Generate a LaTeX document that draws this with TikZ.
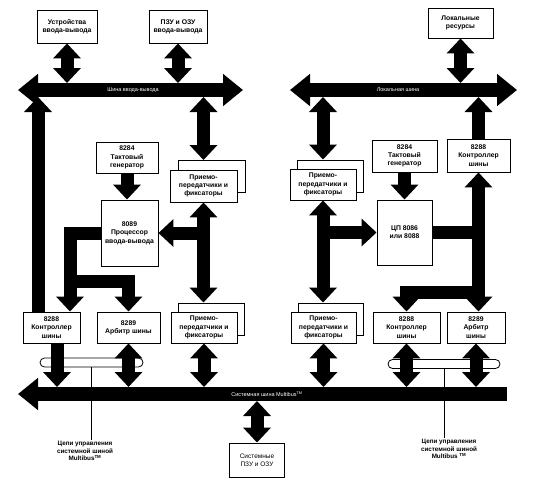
\documentclass[tikz,border=0pt]{standalone}
\usepackage{fontspec}
\setmainfont{Liberation Sans}
\usetikzlibrary{arrows.meta}

\begin{document}
\begin{tikzpicture}[x=1pt,y=-1pt]
\tikzset{
  unitbox/.style={draw=black,fill=white,line width=0.9pt,align=center,inner sep=1pt,font=\fontsize{6.8}{8.3}\selectfont\bfseries},
  fatline/.style={draw=black,line width=13pt,line join=miter},
  fatarrow/.style={fatline,-{Triangle[length=15pt,width=27pt]}},
  twoway/.style={fatline,{Triangle[length=15pt,width=27pt]}-{Triangle[length=15pt,width=27pt]}},
  busline/.style={draw=black,line width=14pt},
  busboth/.style={busline,{Triangle[length=20pt,width=31pt]}-{Triangle[length=20pt,width=31pt]}},
  busleft/.style={busline,{Triangle[length=20pt,width=31pt]}-},
  buslabel/.style={text=white,inner sep=0pt,font=\fontsize{5.5}{6}\selectfont},
  tube/.style={draw=black,fill=white,line width=0.8pt,rounded corners=4.5pt,minimum height=9pt,inner sep=0pt},
  leader/.style={draw=black,line width=0.7pt},
  note/.style={align=center,inner sep=1pt,font=\fontsize{6.3}{7.8}\selectfont\bfseries}
}
\useasboundingbox (0,0) rectangle (540,487);
\coordinate (c_iow) at (18,90);
\coordinate (c_ioe) at (243,90);
\coordinate (c_iotop) at (0,83);
\coordinate (c_iobot) at (0,97);
\coordinate (c_locw) at (290,90);
\coordinate (c_loce) at (517,90);
\coordinate (c_loctop) at (0,83);
\coordinate (c_locbot) at (0,97);
\coordinate (c_sysw) at (18,394);
\coordinate (c_syse) at (507,394);
\coordinate (c_systop) at (0,387);
\coordinate (c_sysbot) at (0,401);
\coordinate (c_iopfork) at (70,281);
\coordinate (c_cpufork) at (478.5,292);
\node[unitbox,minimum width=60,minimum height=33] (n_iodev) at (67,26.5) {Устройства\\ввода-вывода};
\node[unitbox,minimum width=58,minimum height=33] (n_iomem) at (178,26.5) {ПЗУ и ОЗУ\\ввода-вывода};
\node[unitbox,minimum width=65,minimum height=30] (n_locres) at (460.5,23) {Локальные\\ресурсы};
\node[unitbox,minimum width=62,minimum height=31] (n_clk1) at (127,157.5) {8284\\Тактовый\\генератор};
\node[unitbox,minimum width=57,minimum height=66] (n_iop) at (129.5,233) {8089\\Процессор\\ввода-вывода};
\node[unitbox,minimum width=67,minimum height=32] (n_xcv1b) at (211.5,176.5) {};
\node[unitbox,minimum width=67,minimum height=32] (n_xcv1) at (203.5,186) {Приемо-\\передатчики и\\фиксаторы};
\node[unitbox,minimum width=57,minimum height=31] (n_ctl1) at (51.5,327.5) {8288\\Контроллер\\шины};
\node[unitbox,minimum width=63,minimum height=31] (n_arb1) at (128.5,327.5) {8289\\Арбитр шины};
\node[unitbox,minimum width=66,minimum height=32] (n_xcv2b) at (211,319) {};
\node[unitbox,minimum width=66,minimum height=31] (n_xcv2) at (204,327.5) {Приемо-\\передатчики и\\фиксаторы};
\node[unitbox,minimum width=66,minimum height=32] (n_xcv3b) at (330,176) {};
\node[unitbox,minimum width=66,minimum height=31] (n_xcv3) at (323,184.5) {Приемо-\\передатчики и\\фиксаторы};
\node[unitbox,minimum width=65,minimum height=32] (n_clk2) at (404.5,156) {8284\\Тактовый\\генератор};
\node[unitbox,minimum width=55,minimum height=65] (n_cpu) at (404.5,232.5) {ЦП 8086\\или 8088};
\node[unitbox,minimum width=63,minimum height=33] (n_ctl3) at (478.5,155.5) {8288\\Контроллер\\шины};
\node[unitbox,minimum width=65,minimum height=32] (n_xcv4b) at (330.5,319) {};
\node[unitbox,minimum width=65,minimum height=31] (n_xcv4) at (323.5,327.5) {Приемо-\\передатчики и\\фиксаторы};
\node[unitbox,minimum width=67,minimum height=31] (n_ctl2) at (406.5,327.5) {8288\\Контроллер\\шины};
\node[unitbox,minimum width=58,minimum height=31] (n_arb2) at (476,327.5) {8289\\Арбитр\\шины};
\node[unitbox,minimum width=55,minimum height=34,font=\fontsize{6.5}{8}\selectfont] (n_sysmem) at (257,460) {Системные\\ПЗУ и ОЗУ};
\node[tube,minimum width=103] (n_loop1) at (91.5,362.5) {};
\node[tube,minimum width=112] (n_loop2) at (444,364) {};
\node[note] (n_note1) at (85,451) {Цепи управления\\системной шиной\\Multibus\textsuperscript{TM}};
\node[note] (n_note2) at (449,449) {Цепи управления\\системной шиной\\Multibus \textsuperscript{TM}};
\draw[busboth] (c_iow) -- (c_ioe);
\draw[busboth] (c_locw) -- (c_loce);
\draw[busleft] (c_sysw) -- (c_syse);
\node[buslabel] (n_iobus) at (133,90) {Шина ввода-вывода};
\node[buslabel] (n_locbus) at (398,90) {Локальная шина};
\node[buslabel] (n_sysbus) at (267,394) {Системная шина Multibus\textsuperscript{TM}};
\draw[twoway] (n_iodev.south) -- (n_iodev.south |- c_iotop);
\draw[twoway] (n_iomem.south) -- (n_iomem.south |- c_iotop);
\draw[twoway] (n_locres.south) -- (n_locres.south |- c_loctop);
\draw[fatarrow] ([xshift=-13.5]n_ctl1.north) -- ([xshift=-13.5]n_ctl1.north |- c_iobot);
\draw[twoway] (n_xcv1.north |- n_xcv1b.north) -- (n_xcv1.north |- c_iobot);
\draw[fatarrow] (n_clk1.south) -- (n_clk1.south |- n_iop.north);
\draw[twoway] (n_xcv1.south) -- (n_xcv1.south |- n_xcv2b.north);
\draw[fatarrow] (n_xcv1.south |- n_iop.east) -- (n_iop.east);
\draw[fatarrow] (n_iop.west) -| ([xshift=18.5]n_ctl1.north);
\draw[fatarrow] (c_iopfork) -| (n_arb1.north);
\draw[twoway] (n_xcv3.north |- n_xcv3b.north) -- (n_xcv3.north |- c_locbot);
\draw[fatarrow] (n_clk2.south) -- (n_clk2.south |- n_cpu.north);
\draw[fatarrow] (n_ctl3.north) -- (n_ctl3.north |- c_locbot);
\draw[twoway] (n_xcv3.south) -- (n_xcv3.south |- n_xcv4b.north);
\draw[fatarrow] (n_xcv3.south |- n_cpu.west) -- (n_cpu.west);
\draw[fatline] (n_cpu.east) -- (n_cpu.east -| n_ctl3.south);
\draw[twoway] (n_ctl3.south) -- (n_ctl3.south |- n_arb2.north);
\draw[fatarrow] (c_cpufork) -| (n_ctl2.north);
\draw[fatarrow] ([xshift=5.5]n_ctl1.south) -- ([xshift=5.5]n_ctl1.south |- c_systop);
\draw[twoway] (n_arb1.south) -- (n_arb1.south |- c_systop);
\draw[twoway] (n_xcv2.south) -- (n_xcv2.south |- c_systop);
\draw[twoway] (n_xcv4.south) -- (n_xcv4.south |- c_systop);
\draw[twoway] (n_ctl2.south) -- (n_ctl2.south |- c_systop);
\draw[twoway] (n_arb2.south) -- (n_arb2.south |- c_systop);
\draw[twoway] (n_sysmem.north) -- (n_sysmem.north |- c_sysbot);
\draw[leader] (n_loop1.south) -- (n_loop1.south |- n_note1.north);
\draw[leader] (n_loop2.south) -- (n_loop2.south |- n_note2.north);
\end{tikzpicture}
\end{document}
